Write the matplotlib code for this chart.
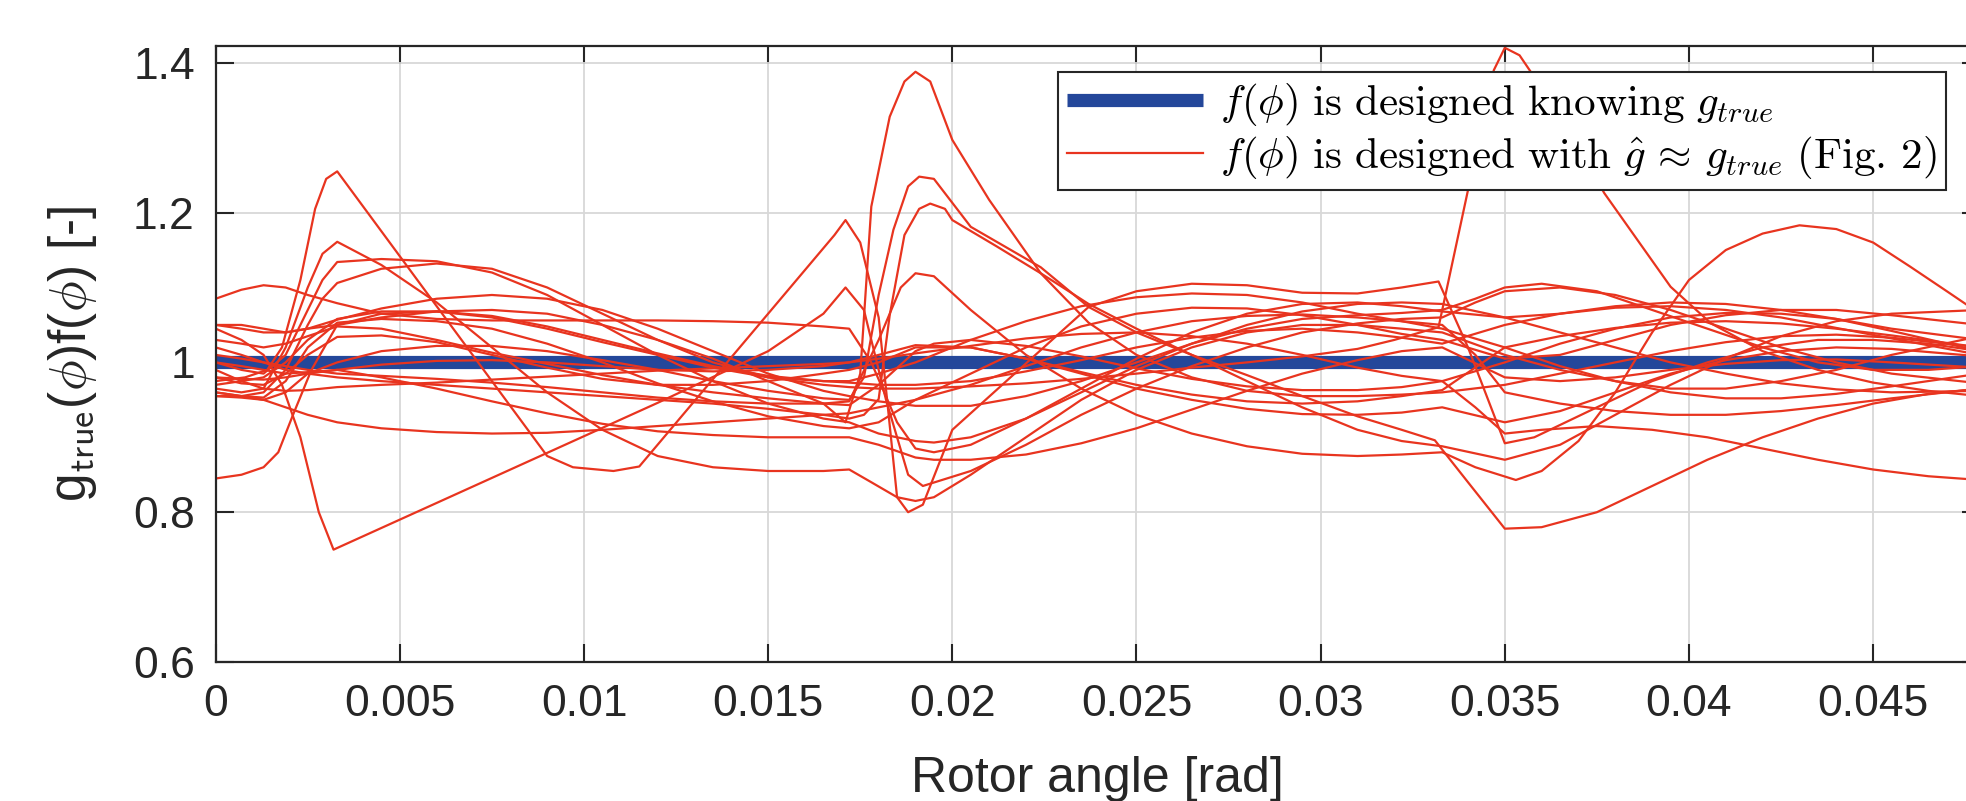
import matplotlib
matplotlib.use('Agg')
import matplotlib.pyplot as plt

plt.rcParams['font.family'] = ['Liberation Sans', 'DejaVu Sans']
plt.rcParams['mathtext.fontset'] = 'cm'

# f designed knowing g_true -> product is exactly 1
x_true = [0, 0.0479]
y_true = [1, 1]

# f designed with g_hat ~ g_true: (rotor angle, g_true*f) points
c1 = [(0, 0.975), (0.0008, 0.98), (0.0014, 0.99), (0.0018, 1.02), (0.0023, 1.11), (0.0027, 1.205), (0.003, 1.245),
      (0.0033, 1.255), (0.009, 0.875), (0.0097, 0.86), (0.0108, 0.855), (0.0115, 0.861), (0.0168, 1.17), (0.0171, 1.19),
      (0.0175, 1.16), (0.018, 1.06), (0.0185, 0.82), (0.0188, 0.80), (0.0192, 0.81), (0.020, 0.91), (0.0237, 1.074),
      (0.025, 1.095), (0.0265, 1.105), (0.028, 1.103), (0.0295, 1.093), (0.031, 1.092), (0.0322, 1.1), (0.0332, 1.108),
      (0.034, 1.02), (0.035, 0.892), (0.0358, 0.90), (0.0375, 0.94), (0.039, 0.975), (0.0405, 1.0), (0.042, 1.02),
      (0.0435, 1.03), (0.045, 1.03), (0.0465, 1.025), (0.0479, 1.015)]
c2 = [(0, 0.965), (0.0007, 0.96), (0.0013, 0.965), (0.0019, 1.02), (0.0025, 1.1), (0.0029, 1.145), (0.0033, 1.161),
      (0.0045, 1.13), (0.006, 1.08), (0.0075, 1.02), (0.009, 0.96), (0.0105, 0.91), (0.012, 0.875), (0.0135, 0.86),
      (0.015, 0.855), (0.0165, 0.855), (0.0172, 0.857), (0.0178, 0.84), (0.0185, 0.82), (0.019, 0.815), (0.0195, 0.82),
      (0.0205, 0.85), (0.022, 0.9), (0.0235, 0.95), (0.025, 0.99), (0.0265, 1.02), (0.028, 1.04), (0.0295, 1.05),
      (0.031, 1.05), (0.0322, 1.045), (0.0333, 1.04), (0.035, 1.01), (0.0365, 0.99), (0.038, 0.975), (0.0395, 0.965),
      (0.041, 0.965), (0.0425, 0.975), (0.044, 0.99), (0.0455, 1.01), (0.0479, 1.035)]
c3 = [(0, 1.0), (0.0007, 0.99), (0.0013, 0.985), (0.0019, 1.01), (0.0025, 1.07), (0.0029, 1.11), (0.0033, 1.134),
      (0.0045, 1.138), (0.006, 1.135), (0.0075, 1.12), (0.009, 1.09), (0.0105, 1.05), (0.012, 1.01), (0.0135, 0.975),
      (0.015, 0.945), (0.0165, 0.925), (0.0172, 0.92), (0.018, 0.905), (0.019, 0.895), (0.0195, 0.893), (0.0205, 0.9),
      (0.022, 0.925), (0.0235, 0.96), (0.025, 0.995), (0.0265, 1.025), (0.028, 1.045), (0.0295, 1.058), (0.031, 1.063),
      (0.0322, 1.066), (0.0333, 1.07), (0.0342, 1.085), (0.035, 1.1), (0.036, 1.105), (0.0375, 1.095), (0.039, 1.07),
      (0.0405, 1.045), (0.042, 1.02), (0.0435, 1.0), (0.045, 0.99), (0.0465, 0.99), (0.0479, 0.995)]
c4 = [(0, 0.955), (0.0007, 0.955), (0.0013, 0.96), (0.0019, 0.99), (0.0025, 1.05), (0.0029, 1.085), (0.0033, 1.106),
      (0.0045, 1.125), (0.006, 1.132), (0.0075, 1.125), (0.009, 1.1), (0.0105, 1.065), (0.012, 1.03), (0.0135, 1.0),
      (0.015, 0.98), (0.0165, 0.975), (0.0172, 0.975), (0.018, 0.985), (0.019, 1.0), (0.0205, 1.03), (0.022, 1.055),
      (0.0235, 1.075), (0.025, 1.087), (0.0265, 1.092), (0.028, 1.09), (0.0295, 1.08), (0.031, 1.065), (0.0322, 1.055),
      (0.0333, 1.045), (0.035, 1.02), (0.0365, 0.995), (0.038, 0.975), (0.0395, 0.96), (0.041, 0.952), (0.0425, 0.952),
      (0.044, 0.958), (0.0455, 0.968), (0.0479, 0.985)]
c5 = [(0, 1.085), (0.0007, 1.097), (0.0013, 1.103), (0.0019, 1.1), (0.0025, 1.09), (0.0033, 1.079), (0.0045, 1.065),
      (0.006, 1.058), (0.0075, 1.056), (0.009, 1.056), (0.0105, 1.056), (0.012, 1.056), (0.0135, 1.055), (0.015, 1.053),
      (0.0165, 1.048), (0.0172, 1.045), (0.0178, 1.0), (0.0185, 0.92), (0.019, 0.885), (0.0195, 0.88), (0.0205, 0.89),
      (0.022, 0.925), (0.0235, 0.965), (0.025, 1.005), (0.0265, 1.04), (0.028, 1.065), (0.0295, 1.078), (0.031, 1.08),
      (0.0322, 1.075), (0.0333, 1.068), (0.035, 1.06), (0.0365, 1.065), (0.038, 1.075), (0.0395, 1.08), (0.041, 1.078),
      (0.0425, 1.07), (0.044, 1.058), (0.0455, 1.042), (0.0479, 1.015)]
c6 = [(0, 1.05), (0.0007, 1.05), (0.0013, 1.045), (0.0019, 1.04), (0.0025, 1.045), (0.0033, 1.057), (0.0045, 1.072),
      (0.006, 1.085), (0.0075, 1.09), (0.009, 1.085), (0.0105, 1.07), (0.012, 1.045), (0.0135, 1.015), (0.015, 0.985),
      (0.0165, 0.962), (0.0172, 0.955), (0.018, 0.948), (0.019, 0.942), (0.0205, 0.942), (0.022, 0.955), (0.0235, 0.975),
      (0.025, 1.0), (0.0265, 1.025), (0.028, 1.05), (0.0295, 1.068), (0.031, 1.078), (0.0322, 1.08), (0.0333, 1.078),
      (0.035, 1.06), (0.0365, 1.04), (0.038, 1.02), (0.0395, 1.0), (0.041, 0.985), (0.0425, 0.972), (0.044, 0.964),
      (0.0455, 0.96), (0.0479, 0.962)]
c7 = [(0, 0.96), (0.0007, 0.955), (0.0013, 0.953), (0.0019, 0.975), (0.0025, 1.02), (0.0033, 1.053), (0.0045, 1.058),
      (0.006, 1.055), (0.0075, 1.045), (0.009, 1.025), (0.0105, 1.0), (0.012, 0.972), (0.0135, 0.948), (0.015, 0.928),
      (0.0165, 0.915), (0.0172, 0.912), (0.018, 0.92), (0.019, 0.95), (0.0205, 0.985), (0.022, 1.02), (0.0235, 1.048),
      (0.025, 1.065), (0.0265, 1.073), (0.028, 1.072), (0.0295, 1.063), (0.031, 1.05), (0.0322, 1.038), (0.0333, 1.03),
      (0.035, 1.005), (0.0365, 1.01), (0.038, 1.03), (0.0395, 1.05), (0.041, 1.063), (0.0425, 1.07), (0.044, 1.07),
      (0.0455, 1.063), (0.0479, 1.05)]
c8 = [(0, 1.03), (0.0007, 1.025), (0.0013, 1.02), (0.0019, 1.025), (0.0025, 1.035), (0.0033, 1.048), (0.0045, 1.045),
      (0.006, 1.03), (0.0075, 1.013), (0.009, 0.998), (0.0105, 0.983), (0.012, 0.97), (0.0135, 0.96), (0.015, 0.952),
      (0.0165, 0.945), (0.0172, 0.943), (0.018, 0.97), (0.019, 1.015), (0.0195, 1.025), (0.0205, 1.03), (0.022, 1.022),
      (0.0235, 1.008), (0.025, 0.992), (0.0265, 0.978), (0.028, 0.968), (0.0295, 0.963), (0.031, 0.963), (0.0322, 0.967),
      (0.0333, 0.975), (0.035, 1.0), (0.0365, 1.025), (0.038, 1.045), (0.0395, 1.06), (0.041, 1.066), (0.0425, 1.065),
      (0.044, 1.058), (0.0455, 1.045), (0.0479, 1.03)]
c9 = [(0, 0.98), (0.0007, 0.972), (0.0013, 0.97), (0.0019, 0.985), (0.0025, 1.01), (0.0033, 1.034), (0.0045, 1.036),
      (0.006, 1.027), (0.0075, 1.01), (0.009, 0.993), (0.0105, 0.978), (0.012, 0.97), (0.0135, 0.97), (0.015, 0.975),
      (0.0165, 0.985), (0.0172, 0.99), (0.018, 1.0), (0.019, 1.02), (0.0205, 1.02), (0.022, 1.005), (0.0235, 0.985),
      (0.025, 0.965), (0.0265, 0.95), (0.028, 0.938), (0.0295, 0.931), (0.031, 0.93), (0.0322, 0.933), (0.0333, 0.94),
      (0.035, 0.92), (0.0365, 0.935), (0.038, 0.96), (0.0395, 0.985), (0.041, 1.003), (0.0425, 1.015), (0.044, 1.02),
      (0.0455, 1.018), (0.0479, 1.008)]
c10 = [(0, 1.0), (0.0007, 0.995), (0.0013, 0.99), (0.0019, 0.985), (0.0025, 0.987), (0.0033, 0.99), (0.0045, 0.98),
       (0.006, 0.965), (0.0075, 0.948), (0.009, 0.932), (0.0105, 0.918), (0.012, 0.908), (0.0135, 0.903), (0.015, 0.9),
       (0.0165, 0.9), (0.0172, 0.9), (0.018, 0.89), (0.019, 0.873), (0.0195, 0.87), (0.0205, 0.87), (0.022, 0.877),
       (0.0235, 0.892), (0.025, 0.912), (0.0265, 0.937), (0.028, 0.962), (0.0295, 0.985), (0.031, 1.003), (0.0322, 1.015),
       (0.0333, 1.02), (0.035, 0.98), (0.0365, 0.975), (0.038, 0.98), (0.0395, 0.99), (0.041, 0.998), (0.0425, 1.003),
       (0.044, 1.004), (0.0455, 1.0), (0.0479, 0.993)]
c11 = [(0, 0.99), (0.0007, 0.975), (0.0013, 0.965), (0.0019, 0.962), (0.0025, 0.963), (0.0033, 0.967), (0.0045, 0.97),
       (0.006, 0.973), (0.0075, 0.977), (0.009, 0.981), (0.0105, 0.985), (0.012, 0.989), (0.0135, 0.992), (0.015, 0.995),
       (0.0165, 0.998), (0.0172, 1.0), (0.018, 1.01), (0.019, 1.023), (0.0205, 1.02), (0.022, 1.005), (0.0235, 0.987),
       (0.025, 0.97), (0.0265, 0.957), (0.028, 0.948), (0.0295, 0.945), (0.031, 0.948), (0.0322, 0.955), (0.0333, 0.963),
       (0.035, 1.02), (0.0365, 1.035), (0.038, 1.046), (0.0395, 1.053), (0.041, 1.055), (0.0425, 1.052), (0.044, 1.045),
       (0.0455, 1.036), (0.0479, 1.02)]
c12 = [(0, 0.955), (0.0007, 0.953), (0.0013, 0.95), (0.0019, 0.94), (0.0025, 0.93), (0.0033, 0.92), (0.0045, 0.912),
       (0.006, 0.907), (0.0075, 0.905), (0.009, 0.906), (0.0105, 0.91), (0.012, 0.915), (0.0135, 0.92), (0.015, 0.925),
       (0.0165, 0.93), (0.0172, 0.932), (0.018, 0.94), (0.019, 0.95), (0.0205, 0.97), (0.022, 0.995), (0.0235, 1.02),
       (0.025, 1.04), (0.0265, 1.055), (0.028, 1.062), (0.0295, 1.064), (0.031, 1.06), (0.0322, 1.055), (0.0333, 1.05),
       (0.0342, 1.01), (0.035, 0.96), (0.0365, 0.945), (0.038, 0.935), (0.0395, 0.93), (0.041, 0.93), (0.0425, 0.935),
       (0.044, 0.943), (0.0455, 0.952), (0.0479, 0.965)]
c13 = [(0, 0.845), (0.0007, 0.85), (0.0013, 0.86), (0.0017, 0.88), (0.0021, 0.93), (0.0026, 0.99), (0.0033, 1.05),
       (0.0045, 1.065), (0.006, 1.068), (0.0075, 1.062), (0.009, 1.048), (0.0105, 1.03), (0.012, 1.012), (0.0135, 0.995),
       (0.015, 0.982), (0.0165, 0.975), (0.0172, 0.973), (0.018, 0.97), (0.019, 0.97), (0.0205, 0.975), (0.022, 0.988),
       (0.0235, 1.003), (0.025, 1.02), (0.0265, 1.033), (0.028, 1.042), (0.0295, 1.045), (0.031, 1.04), (0.0322, 1.033),
       (0.0333, 1.025), (0.035, 1.05), (0.0365, 1.065), (0.038, 1.073), (0.0395, 1.075), (0.041, 1.07), (0.0425, 1.06),
       (0.044, 1.046), (0.0455, 1.032), (0.0479, 1.01)]
c14 = [(0, 1.045), (0.0007, 1.03), (0.0013, 1.01), (0.0018, 0.97), (0.0023, 0.9), (0.0028, 0.8), (0.0032, 0.75),
       (0.012, 0.946), (0.015, 1.015), (0.0165, 1.065), (0.0171, 1.1), (0.0176, 1.07), (0.0182, 0.95), (0.0188, 0.85),
       (0.0192, 0.835), (0.0205, 0.855), (0.022, 0.89), (0.0235, 0.93), (0.025, 0.965), (0.0265, 0.995), (0.028, 1.02),
       (0.0295, 1.04), (0.031, 1.052), (0.0322, 1.058), (0.0333, 1.06), (0.0342, 1.08), (0.035, 1.095), (0.0365, 1.1),
       (0.038, 1.09), (0.0395, 1.07), (0.041, 1.045), (0.0425, 1.02), (0.044, 1.0), (0.0455, 0.985), (0.0479, 0.972)]
c15 = [(0, 0.97), (0.0007, 0.975), (0.0013, 0.98), (0.0019, 1.0), (0.0025, 1.03), (0.0033, 1.058), (0.0045, 1.068),
       (0.006, 1.068), (0.0075, 1.06), (0.009, 1.045), (0.0105, 1.027), (0.012, 1.01), (0.0135, 0.993), (0.015, 0.98),
       (0.0165, 0.97), (0.0172, 0.967), (0.018, 0.965), (0.019, 0.965), (0.0205, 0.968), (0.022, 0.972), (0.0235, 0.978),
       (0.025, 0.985), (0.0265, 0.993), (0.028, 1.0), (0.0295, 1.008), (0.031, 1.018), (0.032, 1.03), (0.0332, 1.047),
       (0.034, 1.23), (0.0347, 1.39), (0.035, 1.42), (0.0354, 1.41), (0.0365, 1.33), (0.0377, 1.226), (0.0395, 1.101),
       (0.0406, 1.052), (0.042, 1.015), (0.0435, 0.99), (0.045, 0.973), (0.0465, 0.962), (0.0479, 0.955)]
c16 = [(0, 1.05), (0.0007, 1.045), (0.0013, 1.04), (0.0019, 1.04), (0.0025, 1.045), (0.0033, 1.05), (0.0045, 1.06),
       (0.006, 1.068), (0.0075, 1.07), (0.009, 1.065), (0.0105, 1.05), (0.012, 1.03), (0.0135, 1.005), (0.015, 0.975),
       (0.0165, 0.945), (0.0171, 0.92), (0.0175, 0.985), (0.0178, 1.208), (0.0183, 1.328), (0.0187, 1.375), (0.019, 1.388),
       (0.0194, 1.375), (0.020, 1.297), (0.021, 1.217), (0.0224, 1.119), (0.0237, 1.053), (0.025, 1.01), (0.0265, 0.98),
       (0.028, 0.962), (0.0295, 0.955), (0.031, 0.955), (0.0322, 0.957), (0.0333, 0.96), (0.035, 0.97), (0.0365, 0.985),
       (0.038, 1.0), (0.0395, 1.015), (0.041, 1.027), (0.0425, 1.035), (0.044, 1.037), (0.0455, 1.033), (0.0479, 1.02)]
c17 = [(0, 0.96), (0.0007, 0.955), (0.0013, 0.95), (0.0019, 0.96), (0.0025, 0.985), (0.0033, 1.0), (0.0045, 1.015),
       (0.006, 1.022), (0.0075, 1.022), (0.009, 1.015), (0.0105, 1.003), (0.012, 0.99), (0.0135, 0.975), (0.015, 0.962),
       (0.0165, 0.952), (0.0172, 0.95), (0.0176, 0.98), (0.018, 1.09), (0.0184, 1.177), (0.0188, 1.235), (0.0191, 1.248),
       (0.0195, 1.245), (0.0205, 1.181), (0.0224, 1.127), (0.0237, 1.074), (0.025, 1.04), (0.0265, 1.01), (0.028, 0.983),
       (0.0295, 0.955), (0.031, 0.928), (0.0322, 0.91), (0.0331, 0.896), (0.034, 0.84), (0.035, 0.778), (0.036, 0.78),
       (0.0375, 0.8), (0.039, 0.835), (0.0405, 0.87), (0.042, 0.9), (0.0435, 0.925), (0.045, 0.945), (0.0465, 0.958),
       (0.0479, 0.965)]
c18 = [(0, 1.02), (0.0007, 1.01), (0.0013, 1.0), (0.0019, 0.99), (0.0025, 0.985), (0.0033, 0.98), (0.0045, 0.975),
       (0.006, 0.97), (0.0075, 0.965), (0.009, 0.96), (0.0105, 0.955), (0.012, 0.95), (0.0135, 0.945), (0.015, 0.938),
       (0.0165, 0.93), (0.0172, 0.925), (0.0176, 0.93), (0.018, 0.951), (0.0183, 1.063), (0.0187, 1.17), (0.0191, 1.205),
       (0.0194, 1.212), (0.0198, 1.205), (0.020, 1.19), (0.0212, 1.155), (0.0224, 1.119), (0.0237, 1.078), (0.025, 1.045),
       (0.0265, 1.01), (0.028, 0.975), (0.0295, 0.94), (0.031, 0.91), (0.0322, 0.895), (0.0333, 0.888), (0.035, 0.87),
       (0.0365, 0.89), (0.038, 0.93), (0.0395, 0.97), (0.041, 1.005), (0.0425, 1.035), (0.044, 1.055), (0.0455, 1.065),
       (0.0479, 1.07)]
c19 = [(0, 1.01), (0.0007, 1.005), (0.0013, 1.0), (0.0019, 0.995), (0.0025, 0.99), (0.0033, 0.985), (0.0045, 0.982),
       (0.006, 0.978), (0.0075, 0.973), (0.009, 0.967), (0.0105, 0.96), (0.012, 0.953), (0.0135, 0.948), (0.015, 0.945),
       (0.0165, 0.945), (0.0172, 0.948), (0.018, 1.03), (0.0186, 1.1), (0.019, 1.119), (0.0195, 1.115), (0.0205, 1.07),
       (0.022, 1.01), (0.0235, 0.965), (0.025, 0.93), (0.0265, 0.905), (0.028, 0.888), (0.0295, 0.878), (0.031, 0.875),
       (0.0322, 0.877), (0.0333, 0.88), (0.0342, 0.86), (0.0353, 0.843), (0.036, 0.855), (0.037, 0.895), (0.038, 0.96),
       (0.039, 1.04), (0.040, 1.11), (0.041, 1.15), (0.042, 1.172), (0.043, 1.183), (0.044, 1.178), (0.045, 1.16),
       (0.046, 1.128), (0.047, 1.095), (0.0479, 1.065)]
c20 = [(0, 0.98), (0.0007, 0.978), (0.0013, 0.977), (0.0019, 0.98), (0.0025, 0.985), (0.0033, 0.99), (0.0045, 0.997),
       (0.006, 1.002), (0.0075, 1.003), (0.009, 1.0), (0.0105, 0.995), (0.012, 0.99), (0.0135, 0.988), (0.015, 0.99),
       (0.0165, 0.995), (0.0172, 1.0), (0.018, 1.005), (0.019, 1.012), (0.0205, 1.022), (0.022, 1.032), (0.0235, 1.038),
       (0.025, 1.04), (0.0265, 1.035), (0.028, 1.025), (0.0295, 1.01), (0.031, 0.993), (0.0322, 0.982), (0.0333, 0.975),
       (0.0342, 0.94), (0.035, 0.905), (0.036, 0.91), (0.0375, 0.915), (0.039, 0.91), (0.0405, 0.9), (0.042, 0.885),
       (0.0435, 0.87), (0.045, 0.857), (0.0465, 0.848), (0.0479, 0.843)]
curves = [c1, c2, c3, c4, c5, c6, c7, c8, c9, c10, c11, c12, c13, c14, c15, c16, c17, c18, c19, c20]

xticks = [0, 0.005, 0.01, 0.015, 0.02, 0.025, 0.03, 0.035, 0.04, 0.045]
xticklabels = ['0', '0.005', '0.01', '0.015', '0.02', '0.025', '0.03', '0.035', '0.04', '0.045']
yticks = [0.6, 0.8, 1.0, 1.2, 1.4]
yticklabels = ['0.6', '0.8', '1', '1.2', '1.4']

blue = '#24479a'
red = '#e8341f'

fig = plt.figure(figsize=(19.66, 8.01), dpi=100)
ax = fig.add_axes([0.1097, 1 - 662 / 801, (1980 - 215.7) / 1966, (662 - 46) / 801])

ax.plot(x_true, y_true, color=blue, lw=9.5, solid_capstyle='butt',
        label=r'$f(\phi)\ \mathrm{is\ designed\ knowing}\ g_{true}$')
for i, c in enumerate(curves):
    xs = [p[0] for p in c]
    ys = [p[1] for p in c]
    lab = None
    if i == 0:
        lab = r'$f(\phi)\ \mathrm{is\ designed\ with}\ \hat{g}\,\approx\,g_{true}\ \mathrm{(Fig.\,2)}$'
    ax.plot(xs, ys, color=red, lw=1.6, label=lab)

ax.set_xlim(0, 0.0479)
ax.set_ylim(0.6, 1.4224)
ax.set_xticks(xticks)
ax.set_xticklabels(xticklabels)
ax.set_yticks(yticks)
ax.set_yticklabels(yticklabels)
ax.grid(True, color='#d8d8d8', lw=1.3)
ax.set_axisbelow(True)
ax.tick_params(direction='in', top=True, right=True, length=13, width=1.5,
               labelsize=32, colors='#262626')
ax.tick_params(axis='x', pad=16)
ax.tick_params(axis='y', pad=15)
for s in ax.spines.values():
    s.set_color('#262626')
    s.set_linewidth(1.6)

ax.set_xlabel('Rotor angle [rad]', fontsize=36, color='#262626')
ax.xaxis.set_label_coords(0.5, -0.152)
ax.set_ylabel(r'g$_{\mathsf{true}}$($\phi$)f($\phi$) [-]', fontsize=37, color='#262626')
ax.yaxis.set_label_coords(-0.066, 0.5)

leg = ax.legend(loc='upper right', bbox_to_anchor=(1946 / 1966, 1 - 72 / 801),
                bbox_transform=fig.transFigure, borderaxespad=0, fontsize=31,
                fancybox=False, framealpha=1, edgecolor='#262626',
                handlelength=3.15, handletextpad=0.4, borderpad=0.22, labelspacing=0.12)
leg.get_frame().set_linewidth(1.5)

fig.savefig('out.png', dpi=100)
